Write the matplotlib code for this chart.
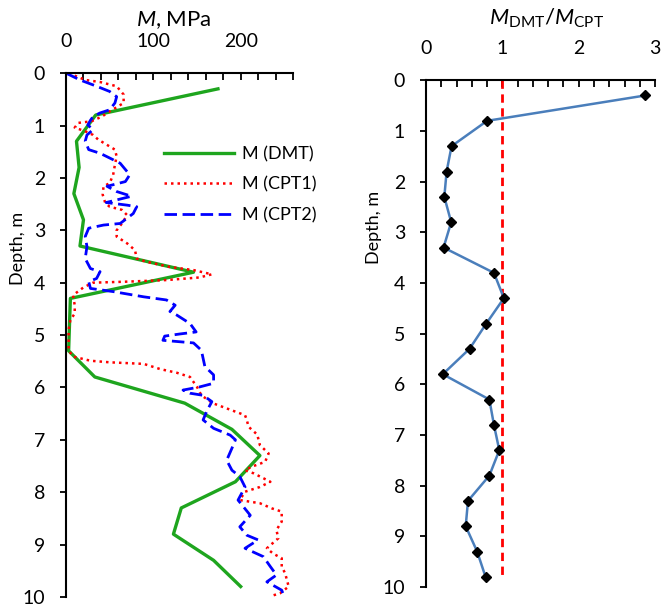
import numpy as np
import matplotlib
matplotlib.use("Agg")
import matplotlib.pyplot as plt
from matplotlib.ticker import MultipleLocator

plt.rcParams['font.family'] = ['Lato', 'DejaVu Sans']
plt.rcParams['mathtext.fontset'] = 'custom'
plt.rcParams['mathtext.rm'] = 'Lato'
plt.rcParams['mathtext.it'] = 'Lato:italic'

# DMT moduli and ratio, every 0.5 m
depth_dmt = [0.3, 0.8, 1.3, 1.8, 2.3, 2.8, 3.3, 3.8, 4.3, 4.8,
             5.3, 5.8, 6.3, 6.8, 7.3, 7.8, 8.3, 8.8, 9.3, 9.8]
m_dmt = [174, 34, 12, 15, 9, 20, 16, 146, 5, 4,
         3, 33, 136, 190, 222, 194, 132, 123, 169, 200]
ratio = [2.87, 0.80, 0.335, 0.27, 0.24, 0.33, 0.23, 0.89, 1.02, 0.79,
         0.57, 0.22, 0.83, 0.89, 0.96, 0.83, 0.55, 0.52, 0.67, 0.78]

# CPT1 profile
depth_cpt1 = [0.00, 0.13, 0.17, 0.25, 0.41, 0.57, 0.73, 0.83, 0.92, 0.95,
              1.04, 1.11, 1.18, 1.27, 1.37, 1.46, 1.59, 1.75, 1.94, 2.10,
              2.16, 2.32, 2.48, 2.55, 2.61, 2.71, 2.87, 3.00, 3.12, 3.25,
              3.38, 3.54, 3.60, 3.70, 3.76, 3.84, 3.90, 3.95, 3.98, 4.00,
              4.09, 4.24, 4.43, 4.59, 4.71, 4.90, 5.06, 5.29, 5.41, 5.49,
              5.52, 5.55, 5.65, 5.72, 5.80, 5.99, 6.15, 6.30, 6.40, 6.53,
              6.62, 6.75, 6.90, 7.10, 7.26, 7.42, 7.51, 7.58, 7.64, 7.80,
              7.90, 7.99, 8.15, 8.21, 8.31, 8.37, 8.56, 8.72, 8.88, 9.07,
              9.17, 9.26, 9.42, 9.55, 9.68, 9.80, 9.93, 9.97]
m_cpt1 = [3, 22, 39, 58, 66, 66, 50, 41, 29, 14,
          10, 22, 31, 37, 47, 56, 58, 56, 54, 50,
          43, 42, 45, 50, 64, 70, 64, 58, 58, 70,
          79, 81, 92, 119, 146, 167, 153, 115, 70, 31,
          20, 8, 10, 10, 5, 3, 3, 3, 8, 28,
          50, 89, 108, 127, 142, 150, 155, 168, 184, 205,
          207, 209, 219, 222, 232, 228, 213, 205, 215, 234,
          222, 205, 199, 222, 236, 247, 247, 241, 243, 230,
          237, 247, 247, 251, 253, 255, 245, 237]

# CPT2 profile
depth_cpt2 = [0.00, 0.13, 0.25, 0.35, 0.45, 0.57, 0.70, 0.76, 0.83, 0.90,
              0.99, 1.08, 1.18, 1.30, 1.46, 1.53, 1.62, 1.72, 1.94, 2.07,
              2.16, 2.26, 2.35, 2.47, 2.52, 2.55, 2.68, 2.87, 2.90, 2.96,
              3.12, 3.31, 3.54, 3.73, 3.79, 3.92, 3.98, 4.11, 4.17, 4.27,
              4.33, 4.43, 4.55, 4.62, 4.78, 4.94, 4.98, 5.02, 5.10, 5.15,
              5.29, 5.60, 5.76, 5.92, 5.99, 6.05, 6.11, 6.15, 6.27, 6.46,
              6.62, 6.78, 6.91, 7.00, 7.16, 7.39, 7.58, 7.70, 7.90, 8.15,
              8.44, 8.66, 8.82, 8.91, 9.07, 9.23, 9.42, 9.58, 9.71, 9.87,
              9.96]
m_cpt2 = [0, 16, 35, 50, 58, 56, 50, 39, 31, 28,
          25, 31, 24, 22, 26, 39, 50, 62, 73, 68,
          47, 58, 75, 46, 70, 81, 77, 62, 43, 26,
          22, 24, 22, 28, 39, 35, 26, 28, 54, 89,
          115, 125, 119, 127, 142, 149, 130, 113, 111, 146,
          155, 159, 169, 169, 153, 134, 142, 157, 167, 161,
          157, 169, 188, 194, 190, 184, 190, 199, 205, 197,
          211, 199, 207, 220, 205, 226, 234, 241, 230, 247,
          249]

W, H = 662, 612
fig = plt.figure(figsize=(W / 100, H / 100), dpi=100)
ax1 = fig.add_axes([0.0997, 0.0245, 0.343, 0.856])
ax2 = fig.add_axes([0.6435, 0.0408, 0.346, 0.828])


def style_axes(ax, label_x, label_y, xpad):
    ax.invert_yaxis()
    ax.xaxis.tick_top()
    for side in ['right', 'bottom']:
        ax.spines[side].set_visible(False)
    for side in ['left', 'top']:
        ax.spines[side].set_linewidth(1.5)
    ax.tick_params(axis='x', which='both', direction='in', length=5,
                   width=1.3, labelsize=14, pad=xpad)
    ax.tick_params(axis='y', which='major', direction='out', length=4.5,
                   width=1.3, labelsize=14, pad=10.5)
    ax.set_ylabel('Depth, m', fontsize=13)
    ax.yaxis.set_label_coords(label_x, label_y)
    ax.set_ylim(10, 0)
    ax.yaxis.set_major_locator(MultipleLocator(1))


# left: moduli
ax1.plot(m_dmt, depth_dmt, color='#1EA51E', lw=2.4, label='M (DMT)')
ax1.plot(m_cpt1, depth_cpt1, color='#FF0000', lw=1.8, ls=(0, (1, 1.6)),
         label='M (CPT1)')
ax1.plot(m_cpt2, depth_cpt2, color='#0000FF', lw=2.0, ls=(0, (4.5, 2)),
         label='M (CPT2)')
style_axes(ax1, -0.176, 0.665, 16.5)
ax1.set_xlim(0, 260)
ax1.xaxis.set_major_locator(MultipleLocator(100))
ax1.xaxis.set_minor_locator(MultipleLocator(20))
ax1.legend(loc='upper left', bbox_to_anchor=(0.40, 0.875), frameon=False,
           fontsize=13, handlelength=3.9, handletextpad=0.4,
           labelspacing=0.8, borderaxespad=0)
fig.text(174 / W, 1 - 20 / H, '$M$, MPa', fontsize=16,
         ha='center', va='center')

# right: DMT / CPT ratio
ax2.plot([1, 1], [0, 9.8], color='#FF0000', lw=2, ls=(0, (3, 2)))
ax2.plot(ratio, depth_dmt, color='#4A7EBB', lw=1.8, marker='D',
         markersize=5.5, markerfacecolor='black', markeredgecolor='black')
style_axes(ax2, -0.19, 0.71, 16.5)
ax2.set_xlim(0, 3)
ax2.xaxis.set_major_locator(MultipleLocator(1))
ax2.xaxis.set_minor_locator(MultipleLocator(0.2))
fig.text(547 / W, 1 - 18 / H, r'$M_{\mathrm{DMT}}/M_{\mathrm{CPT}}$',
         fontsize=16, ha='center', va='center')

fig.savefig('out.png', dpi=100)
